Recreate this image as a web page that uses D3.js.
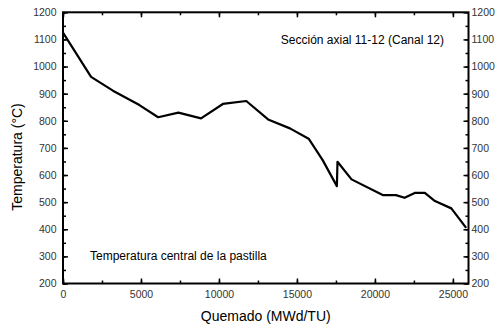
<!DOCTYPE html>
<html>
<head>
<meta charset="utf-8">
<script src="https://cdn.jsdelivr.net/npm/d3@7"></script>
<style>
  html, body { margin: 0; padding: 0; background: #fff; }
  svg { display: block; }
</style>
</head>
<body>
<svg id="chart" width="497" height="329"></svg>
<script>
// Burnup (MWd/TU) and pellet centre temperature (°C)
const burnup = [0, 1800, 3200, 4900, 6100, 7400, 8850, 10250, 11750, 13150, 14550, 15750, 16650, 17560, 17600, 18500, 20500, 21350, 21900, 22550, 23200, 23850, 24900, 25850];
const temperature = [1125, 962, 911, 858, 813, 830, 809, 862, 873, 805, 772, 734, 655, 559, 649, 584, 526, 526, 516, 534, 534, 504, 477, 405];

const xTicks = [0, 5000, 10000, 15000, 20000, 25000];
const yTicks = [200, 300, 400, 500, 600, 700, 800, 900, 1000, 1100, 1200];

const xTitle = "Quemado (MWd/TU)";
const yTitle = "Temperatura (°C)";
const noteTop = "Sección axial 11-12 (Canal 12)";
const noteBottom = "Temperatura central de la pastilla";

const svg = d3.select("#chart");
const m = { left: 63, right: 468.5, top: 12.3, bottom: 283.5 };

const x = d3.scaleLinear().domain([0, 26000]).range([m.left, m.right]);
const y = d3.scaleLinear().domain([200, 1200]).range([m.bottom, m.top]);

const font = "Liberation Sans, Arial, sans-serif";

const xMinor = d3.range(0, 26001, 2500);
const yMinor = d3.range(200, 1201, 50);

function tickStyle(g) {
  g.select(".domain").remove();
  g.selectAll(".tick line").attr("stroke", "#000").attr("stroke-width", 1.5);
  g.selectAll(".tick text").attr("font-family", font).attr("font-size", 10.5).attr("fill", "#333");
}

// minor ticks (inward)
svg.append("g").attr("transform", `translate(0,${m.bottom})`)
  .call(d3.axisBottom(x).tickValues(xMinor).tickSize(-3).tickFormat(""))
  .call(tickStyle);
svg.append("g").attr("transform", `translate(0,${m.top})`)
  .call(d3.axisTop(x).tickValues(xMinor).tickSize(-3).tickFormat(""))
  .call(tickStyle);
svg.append("g").attr("transform", `translate(${m.left},0)`)
  .call(d3.axisLeft(y).tickValues(yMinor).tickSize(-3).tickFormat(""))
  .call(tickStyle);
svg.append("g").attr("transform", `translate(${m.right},0)`)
  .call(d3.axisRight(y).tickValues(yMinor).tickSize(-3).tickFormat(""))
  .call(tickStyle);

// major ticks with labels
svg.append("g").attr("transform", `translate(0,${m.bottom})`)
  .call(d3.axisBottom(x).tickValues(xTicks).tickSize(-5).tickPadding(7.3).tickFormat(d3.format("d")))
  .call(tickStyle);
svg.append("g").attr("transform", `translate(0,${m.top})`)
  .call(d3.axisTop(x).tickValues(xTicks).tickSize(-5).tickFormat(""))
  .call(tickStyle);
svg.append("g").attr("transform", `translate(${m.left},0)`)
  .call(d3.axisLeft(y).tickValues(yTicks).tickSize(-5).tickPadding(6.5).tickFormat(d3.format("d")))
  .call(tickStyle);
svg.append("g").attr("transform", `translate(${m.right},0)`)
  .call(d3.axisRight(y).tickValues(yTicks).tickSize(-5).tickPadding(3).tickFormat(d3.format("d")))
  .call(tickStyle);

// frame
svg.append("rect")
  .attr("x", m.left).attr("y", m.top)
  .attr("width", m.right - m.left).attr("height", m.bottom - m.top)
  .attr("fill", "none").attr("stroke", "#000").attr("stroke-width", 2);

// data line
const pts = burnup.map((b, i) => [b, temperature[i]]);
svg.append("path")
  .datum(pts)
  .attr("fill", "none")
  .attr("stroke", "#000")
  .attr("stroke-width", 2.2)
  .attr("stroke-linejoin", "round")
  .attr("d", d3.line().x(d => x(d[0])).y(d => y(d[1])));

// titles
svg.append("text")
  .attr("x", (m.left + m.right) / 2).attr("y", 321)
  .attr("text-anchor", "middle")
  .attr("font-family", font).attr("font-size", 14)
  .text(xTitle);

svg.append("text")
  .attr("transform", `translate(22,157) rotate(-90)`)
  .attr("text-anchor", "middle")
  .attr("font-family", font).attr("font-size", 14)
  .text(yTitle);

// notes
svg.append("text")
  .attr("x", 444).attr("y", 43.5)
  .attr("text-anchor", "end")
  .attr("font-family", font).attr("font-size", 12)
  .text(noteTop);

svg.append("text")
  .attr("x", 90).attr("y", 259.5)
  .attr("font-family", font).attr("font-size", 12)
  .text(noteBottom);
</script>
</body>
</html>
